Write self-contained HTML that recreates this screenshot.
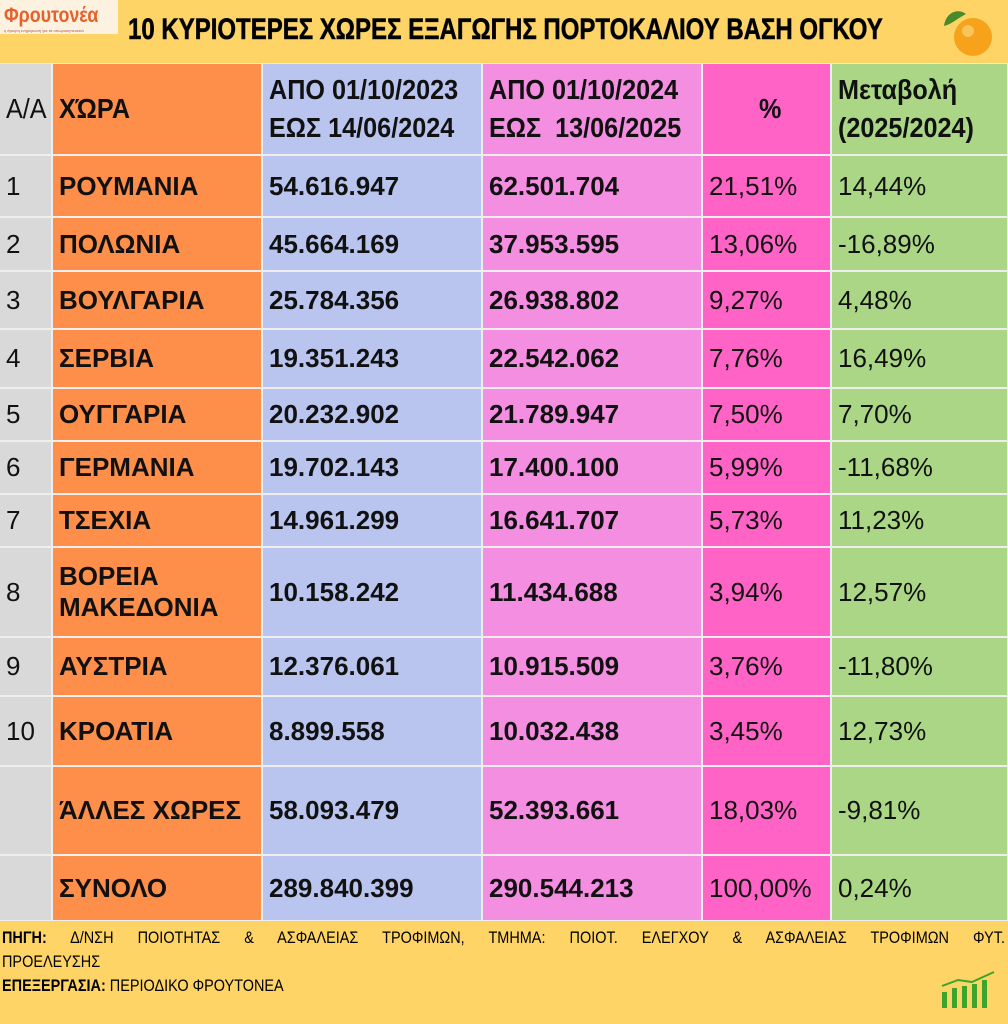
<!DOCTYPE html>
<html><head><meta charset="utf-8"><style>
body{margin:0;width:1008px;height:1024px;background:#fed466;position:relative;overflow:hidden;font-family:"Liberation Sans","DejaVu Sans",sans-serif;}
.c{position:absolute;display:flex;align-items:center;box-sizing:border-box;padding-left:6px;font-size:26px;color:#111;white-space:nowrap;}
.b{font-weight:bold}
.n{display:inline-block;transform:scaleX(0.9);transform-origin:left center;line-height:38px;font-size:28px}
.g{background:#d9d9d9}.o{background:#fd8f4b}.bl{background:#bac5ef}.p{background:#f38ee0}.hp{background:#ff63c6}.gr{background:#aad685}
</style></head><body>
<div style="position:absolute;left:0;top:0;width:118px;height:34px;background:#fdf1df"></div>
<div style="position:absolute;left:4px;top:4px;font-size:21px;font-weight:bold;color:#e8602a;transform:scaleX(0.85);transform-origin:left">Φρουτονέα</div>
<div style="position:absolute;left:4px;top:28px;font-size:4px;color:#a55">η έγκυρη ενημέρωση για τα οπωροκηπευτικά</div>
<div style="position:absolute;left:128px;top:13px;font-size:30px;font-weight:bold;transform:scaleX(0.8);transform-origin:left;white-space:nowrap;-webkit-text-stroke:0.6px #111">10 ΚΥΡΙΟΤΕΡΕΣ ΧΩΡΕΣ ΕΞΑΓΩΓΗΣ ΠΟΡΤΟΚΑΛΙΟΥ ΒΑΣΗ ΟΓΚΟΥ</div>
<svg style="position:absolute;left:936px;top:4px" width="62" height="54"><circle cx="37" cy="33" r="19" fill="#f6a21a"/><circle cx="32" cy="27" r="6" fill="#fbc45a"/><path d="M8 22 C10 8 22 4 30 10 C22 14 16 20 8 22Z" fill="#4a8a2a"/></svg>
<div style="position:absolute;left:0;top:63px;width:1008px;height:858px;background:#eeeeee"></div>
<div id="t"></div>
<script>
const cols=[[0,52,'g'],[52,262,'o'],[262,482,'bl'],[482,702,'p'],[702,831,'hp'],[831,1008,'gr']];
const rows=[63,155,217,271,329,388,441,494,547,637,696,766,855,921];
const data=[
["1","ΡΟΥΜΑΝΙΑ","54.616.947","62.501.704","21,51%","14,44%"],
["2","ΠΟΛΩΝΙΑ","45.664.169","37.953.595","13,06%","-16,89%"],
["3","ΒΟΥΛΓΑΡΙΑ","25.784.356","26.938.802","9,27%","4,48%"],
["4","ΣΕΡΒΙΑ","19.351.243","22.542.062","7,76%","16,49%"],
["5","ΟΥΓΓΑΡΙΑ","20.232.902","21.789.947","7,50%","7,70%"],
["6","ΓΕΡΜΑΝΙΑ","19.702.143","17.400.100","5,99%","-11,68%"],
["7","ΤΣΕΧΙΑ","14.961.299","16.641.707","5,73%","11,23%"],
["8","ΒΟΡΕΙΑ<br>ΜΑΚΕΔΟΝΙΑ","10.158.242","11.434.688","3,94%","12,57%"],
["9","ΑΥΣΤΡΙΑ","12.376.061","10.915.509","3,76%","-11,80%"],
["10","ΚΡΟΑΤΙΑ","8.899.558","10.032.438","3,45%","12,73%"],
["","ΆΛΛΕΣ ΧΩΡΕΣ","58.093.479","52.393.661","18,03%","-9,81%"],
["","ΣΥΝΟΛΟ","289.840.399","290.544.213","100,00%","0,24%"]];
const hdr=['<span class="n">Α/Α</span>','<span class="n b">ΧΏΡΑ</span>','<span class="n b">ΑΠΟ 01/10/2023<br>ΕΩΣ 14/06/2024</span>','<span class="n b">ΑΠΟ 01/10/2024<br>ΕΩΣ&nbsp; 13/06/2025</span>','<span class="n b" style="margin-left:50px">%</span>','<span class="n b">Μεταβολή<br>(2025/2024)</span>'];
let h='';
for(let r=0;r<rows.length-1;r++){
 for(let c=0;c<6;c++){
  const [x0,x1,cl]=cols[c];
  const y0=rows[r],y1=rows[r+1];
  let txt=r==0?hdr[c]:data[r-1][c];
  const bold=r>0&&c>=1&&c<=3?' b':'';
  const lh=(r==8&&c==1)?'line-height:31px;':'';
  h+=`<div class="c ${cl}${bold}" style="left:${x0+(c?1:0)}px;top:${y0+1}px;width:${x1-x0-(c?2:1)}px;height:${y1-y0-2}px;${lh}"><div>${txt}</div></div>`;
 }
}
document.getElementById('t').innerHTML=h;
</script>
<div style="position:absolute;left:2px;top:926px;width:1004px;font-size:17px;line-height:24px;">
<div style="transform:scaleX(0.85);transform-origin:left;width:1180px;text-align:justify;text-align-last:justify"><b>ΠΗΓΗ:</b> Δ/ΝΣΗ ΠΟΙΟΤΗΤΑΣ &amp; ΑΣΦΑΛΕΙΑΣ ΤΡΟΦΙΜΩΝ, ΤΜΗΜΑ: ΠΟΙΟΤ. ΕΛΕΓΧΟΥ &amp; ΑΣΦΑΛΕΙΑΣ ΤΡΟΦΙΜΩΝ ΦΥΤ.</div>
<div style="transform:scaleX(0.85);transform-origin:left">ΠΡΟΕΛΕΥΣΗΣ</div>
<div style="transform:scaleX(0.85);transform-origin:left"><b>ΕΠΕΞΕΡΓΑΣΙΑ:</b> ΠΕΡΙΟΔΙΚΟ ΦΡΟΥΤΟΝΕΑ</div>
</div>
<svg style="position:absolute;left:938px;top:970px" width="62" height="40"><g fill="#3aa52a"><rect x="4" y="22" width="5" height="16"/><rect x="14" y="18" width="5" height="20"/><rect x="24" y="16" width="5" height="22"/><rect x="34" y="14" width="5" height="24"/><rect x="44" y="10" width="5" height="28"/></g><polyline points="4,16 20,10 34,12 56,2" fill="none" stroke="#3aa52a" stroke-width="2"/></svg>
</body></html>
